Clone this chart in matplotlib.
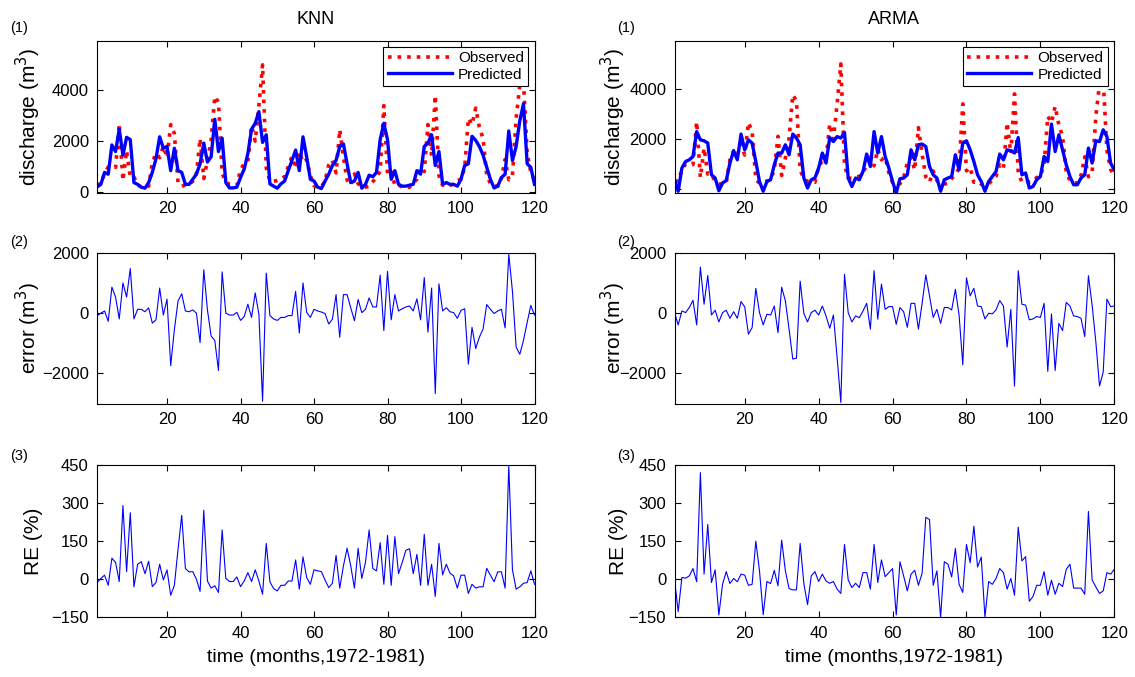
import numpy as np
import matplotlib.pyplot as plt

plt.rcParams['font.family'] = ['Liberation Sans', 'DejaVu Sans']

#--------- data ---------
months = np.arange(1, 121)

observed = [300, 315, 740, 980, 1000, 970, 2690, 450, 1630, 590,
            600, 270, 200, 180, 230, 1170, 1520, 1350, 1800, 1350,
            2650, 2300, 370, 220, 280, 300, 420, 730, 2100, 530,
            1230, 2030, 3760, 3530, 730, 420, 290, 300, 260, 870,
            1120, 1190, 2600, 2000, 3400, 5000, 950, 425, 420, 450,
            500, 610, 1000, 1390, 920, 1580, 1160, 1270, 645, 250,
            180, 200, 430, 1060, 1255, 750, 2450, 1380, 470, 270,
            710, 325, 200, 190, 220, 405, 580, 820, 3400, 720,
            850, 260, 290, 180, 160, 190, 350, 500, 960, 800,
            2650, 1420, 3800, 640, 265, 300, 270, 300, 450, 500,
            950, 2900, 2650, 3300, 2550, 2100, 650, 330, 230, 230,
            540, 1280, 480, 650, 2900, 4200, 4350, 1540, 780, 460]

knn_pred = [200, 300, 770, 700, 1850, 1590, 2470, 1450, 2150, 2060,
            370, 300, 190, 150, 370, 770, 1310, 2170, 1720, 1790,
            840, 1720, 840, 770, 300, 300, 500, 700, 1110, 1920,
            1180, 1380, 2860, 1590, 2120, 370, 160, 160, 190, 570,
            900, 1510, 2470, 2700, 3160, 1950, 2250, 320, 230, 150,
            320, 430, 840, 1240, 1650, 840, 2170, 1380, 500, 430,
            190, 135, 430, 700, 1040, 1240, 1790, 1890, 1110, 370,
            430, 770, 150, 300, 660, 600, 770, 2060, 2700, 2060,
            500, 840, 300, 230, 230, 270, 300, 840, 700, 1790,
            1920, 2250, 1040, 1590, 300, 370, 300, 300, 230, 500,
            1040, 1110, 2190, 2030, 1790, 1450, 970, 500, 160, 230,
            570, 700, 2400, 1240, 1790, 2800, 3470, 1110, 970, 300]

arma_pred = [360, -100, 830, 1090, 1160, 1290, 2290, 1960, 1920, 1830,
             560, 430, -80, 230, 330, 1030, 1520, 1160, 2190, 1560,
             1960, 1830, 1090, 290, -100, 290, 360, 960, 1430, 1430,
             1760, 1360, 2190, 2030, 1760, 430, 30, 360, 430, 830,
             1430, 1030, 2050, 1890, 2090, 2030, 2250, 430, 90, 430,
             360, 690, 1390, 890, 2290, 1430, 2090, 1290, 830, 290,
             -170, 400, 430, 560, 1560, 1160, 1760, 1790, 1690, 890,
             560, 430, -100, 360, 430, 490, 1360, 760, 1830, 1920,
             1560, 1090, 560, 290, -100, 290, 490, 690, 1390, 1160,
             1560, 1520, 1430, 2050, 560, 630, 30, 90, 360, 490,
             1290, 1090, 2590, 1490, 2160, 1560, 960, 490, 160, 160,
             430, 560, 1630, 1030, 1920, 1890, 2360, 2090, 1030, 760]

knn_err = [-100, -20, 55, -290, 850, 520, -210, 990, 520, 1470,
           -210, 110, 110, 30, 160, -350, -240, 820, -80, 450,
           -1770, -570, 390, 630, 55, 30, 90, -20, -1000, 1430,
           90, -780, -930, -1930, 1360, -20, -80, -80, 10, -260,
           -130, 280, -160, 660, -55, -2960, 1320, -100, -210, -260,
           -160, -160, -100, -100, 710, -680, 990, 10, -160, 110,
           55, 20, -30, -380, -220, 600, -820, 600, 600, 160,
           -270, 440, 0, 110, 490, 190, 190, 1250, -600, 1380,
           -240, 600, 55, 130, 190, 220, 55, 460, -240, 1170,
           -650, 820, -2700, 960, 55, 160, 30, 0, -190, 75,
           130, -1720, -490, -1200, -820, -550, 270, 110, -30, 55,
           110, -510, 1950, 710, -1150, -1390, -930, -330, 240, -80]

arma_err = [0, -410, 55, 0, 170, 410, -410, 1520, 280, 1240,
            -80, 80, -310, 0, 80, -190, 30, -190, 370, 190,
            -720, -500, 810, 0, -410, -55, -80, 220, -670, 850,
            390, -550, -1550, -1520, 1050, -30, -310, 0, 80, -80,
            220, -110, -520, -80, -1500, -3000, 1280, 0, -310, -110,
            -170, 55, 310, -550, 1400, -220, 950, 110, 200, 200,
            -390, 170, 30, -490, 310, 310, -550, 310, 1260, 560,
            -160, 110, -360, 170, 170, 90, 780, -80, -1740, 1160,
            560, 810, 220, 200, -210, -20, -40, 90, 400, 220,
            -1150, 110, -2450, 1400, 280, 250, -240, -210, -130, -160,
            310, -1960, -40, -1930, -360, -600, 340, 220, -110, -130,
            -190, -800, 1230, 250, -970, -2450, -1980, 450, 200, 220]

knn_re = [-13, 3, 16, -24, 83, 66, -9, 290, 30, 262,
          -30, 59, 69, 22, 71, -29, -13, 59, -3, 37,
          -63, -24, 118, 252, 42, 29, 30, 0, -48, 272,
          -7, -35, -26, -52, 194, 3, -9, -9, 9, -29,
          -7, 26, -9, 37, -7, -59, 141, -10, -37, -46,
          -24, -24, -7, -7, 76, -39, 88, 7, -20, 37,
          33, 30, -3, -33, -16, 94, -35, 52, 122, 52,
          -35, 122, 3, 66, 194, 42, 33, 144, -20, 173,
          -24, 168, 22, 66, 114, 120, 22, 98, -24, 177,
          -24, 59, -68, 141, 17, 59, 24, 13, -35, 16,
          16, -56, -20, -35, -30, -30, 43, 16, -10, 29,
          29, -35, 448, 37, -39, -30, -16, -13, 33, -20]

arma_re = [0, -128, 7, 4, 13, 42, -10, 420, 20, 216,
           -13, 37, -141, -20, 30, -17, 3, -10, 20, 16,
           -24, -20, 150, 33, -140, -9, -17, 35, -26, 154,
           33, -37, -42, -42, 141, -17, -100, 13, 30, -9,
           20, -7, -16, -9, -39, -56, 137, -3, -33, -16,
           -33, 26, 26, -39, 137, -13, 76, 10, 26, 42,
           -141, 69, 13, -46, 20, 35, -24, 24, 244, 235,
           -24, 33, -150, 69, 59, 9, 121, -20, -52, 137,
           65, 209, 48, 87, -150, -9, -20, 3, 42, 26,
           -39, 3, -63, 205, 72, 89, -87, -68, -24, -24,
           30, -63, -4, -59, -16, -29, 39, 59, -35, -35,
           -35, -59, 267, -3, -30, -56, -46, 26, 20, 39]

#--------- figure ---------
fig = plt.figure(figsize=(11.35, 6.77), dpi=100)

W, H = 1135.0, 677.0
col_x = [(97.2, 534.5), (674.5, 1114.3)]
row_y = [(40.7, 192.5), (252.7, 404.0), (465.0, 617.3)]

def make_ax(col, row):
    x0, x1 = col_x[col]
    y0, y1 = row_y[row]
    ax = fig.add_axes([x0 / W, 1 - y1 / H, (x1 - x0) / W, (y1 - y0) / H])
    ax.set_xlim(1, 120)
    ax.set_xticks([20, 40, 60, 80, 100, 120])
    ax.tick_params(direction='in', top=True, right=True, labelsize=12,
                   length=4, width=0.8, pad=6)
    for s in ax.spines.values():
        s.set_linewidth(0.8)
    return ax

label_fs = 15

for col, (name, pred, err, re) in enumerate([
        ('KNN', knn_pred, knn_err, knn_re),
        ('ARMA', arma_pred, arma_err, arma_re)]):

    # (1) observed vs predicted
    ax1 = make_ax(col, 0)
    ax1.plot(months, observed, ':', color='red', lw=2.6, label='Observed')
    ax1.plot(months, pred, '-', color='blue', lw=2.4, label='Predicted')
    ax1.set_ylim(-20 if col == 0 else -150, 5950 if col == 0 else 5930)
    ax1.set_yticks([0, 2000, 4000])
    ax1.set_ylabel(r'discharge (m$^3$)', fontsize=label_fs)
    ax1.set_title(name, fontsize=13, pad=12)
    leg = ax1.legend(loc='upper right', fontsize=11, handlelength=4.2,
                     handletextpad=0.4, borderpad=0.3, labelspacing=0.15,
                     fancybox=False, framealpha=1, borderaxespad=0.4)
    leg.get_frame().set_edgecolor('black')
    leg.get_frame().set_linewidth(0.8)

    # (2) error
    ax2 = make_ax(col, 1)
    ax2.plot(months, err, '-', color='blue', lw=0.8)
    ax2.set_ylim(-3050, 2000)
    ax2.set_yticks([-2000, 0, 2000])
    ax2.set_ylabel(r'error (m$^3$)', fontsize=label_fs)

    # (3) relative error
    ax3 = make_ax(col, 2)
    ax3.plot(months, re, '-', color='blue', lw=0.8)
    ax3.set_ylim(-150, 450)
    ax3.set_yticks([-150, 0, 150, 300, 450])
    ax3.set_ylabel('RE (%)', fontsize=label_fs)
    ax3.set_xlabel('time (months,1972-1981)', fontsize=14, labelpad=6)

    lab_x = -0.125 if col == 0 else -0.105
    for ax in (ax1, ax2, ax3):
        ax.yaxis.set_label_coords(lab_x, 0.5)

    lx = 10 if col == 0 else 617
    for lab, ly in zip(['(1)', '(2)', '(3)'], [28, 242, 456]):
        fig.text(lx / W, 1 - ly / H, lab, fontsize=10.5, va='center')

fig.savefig('out.png', dpi=100)
